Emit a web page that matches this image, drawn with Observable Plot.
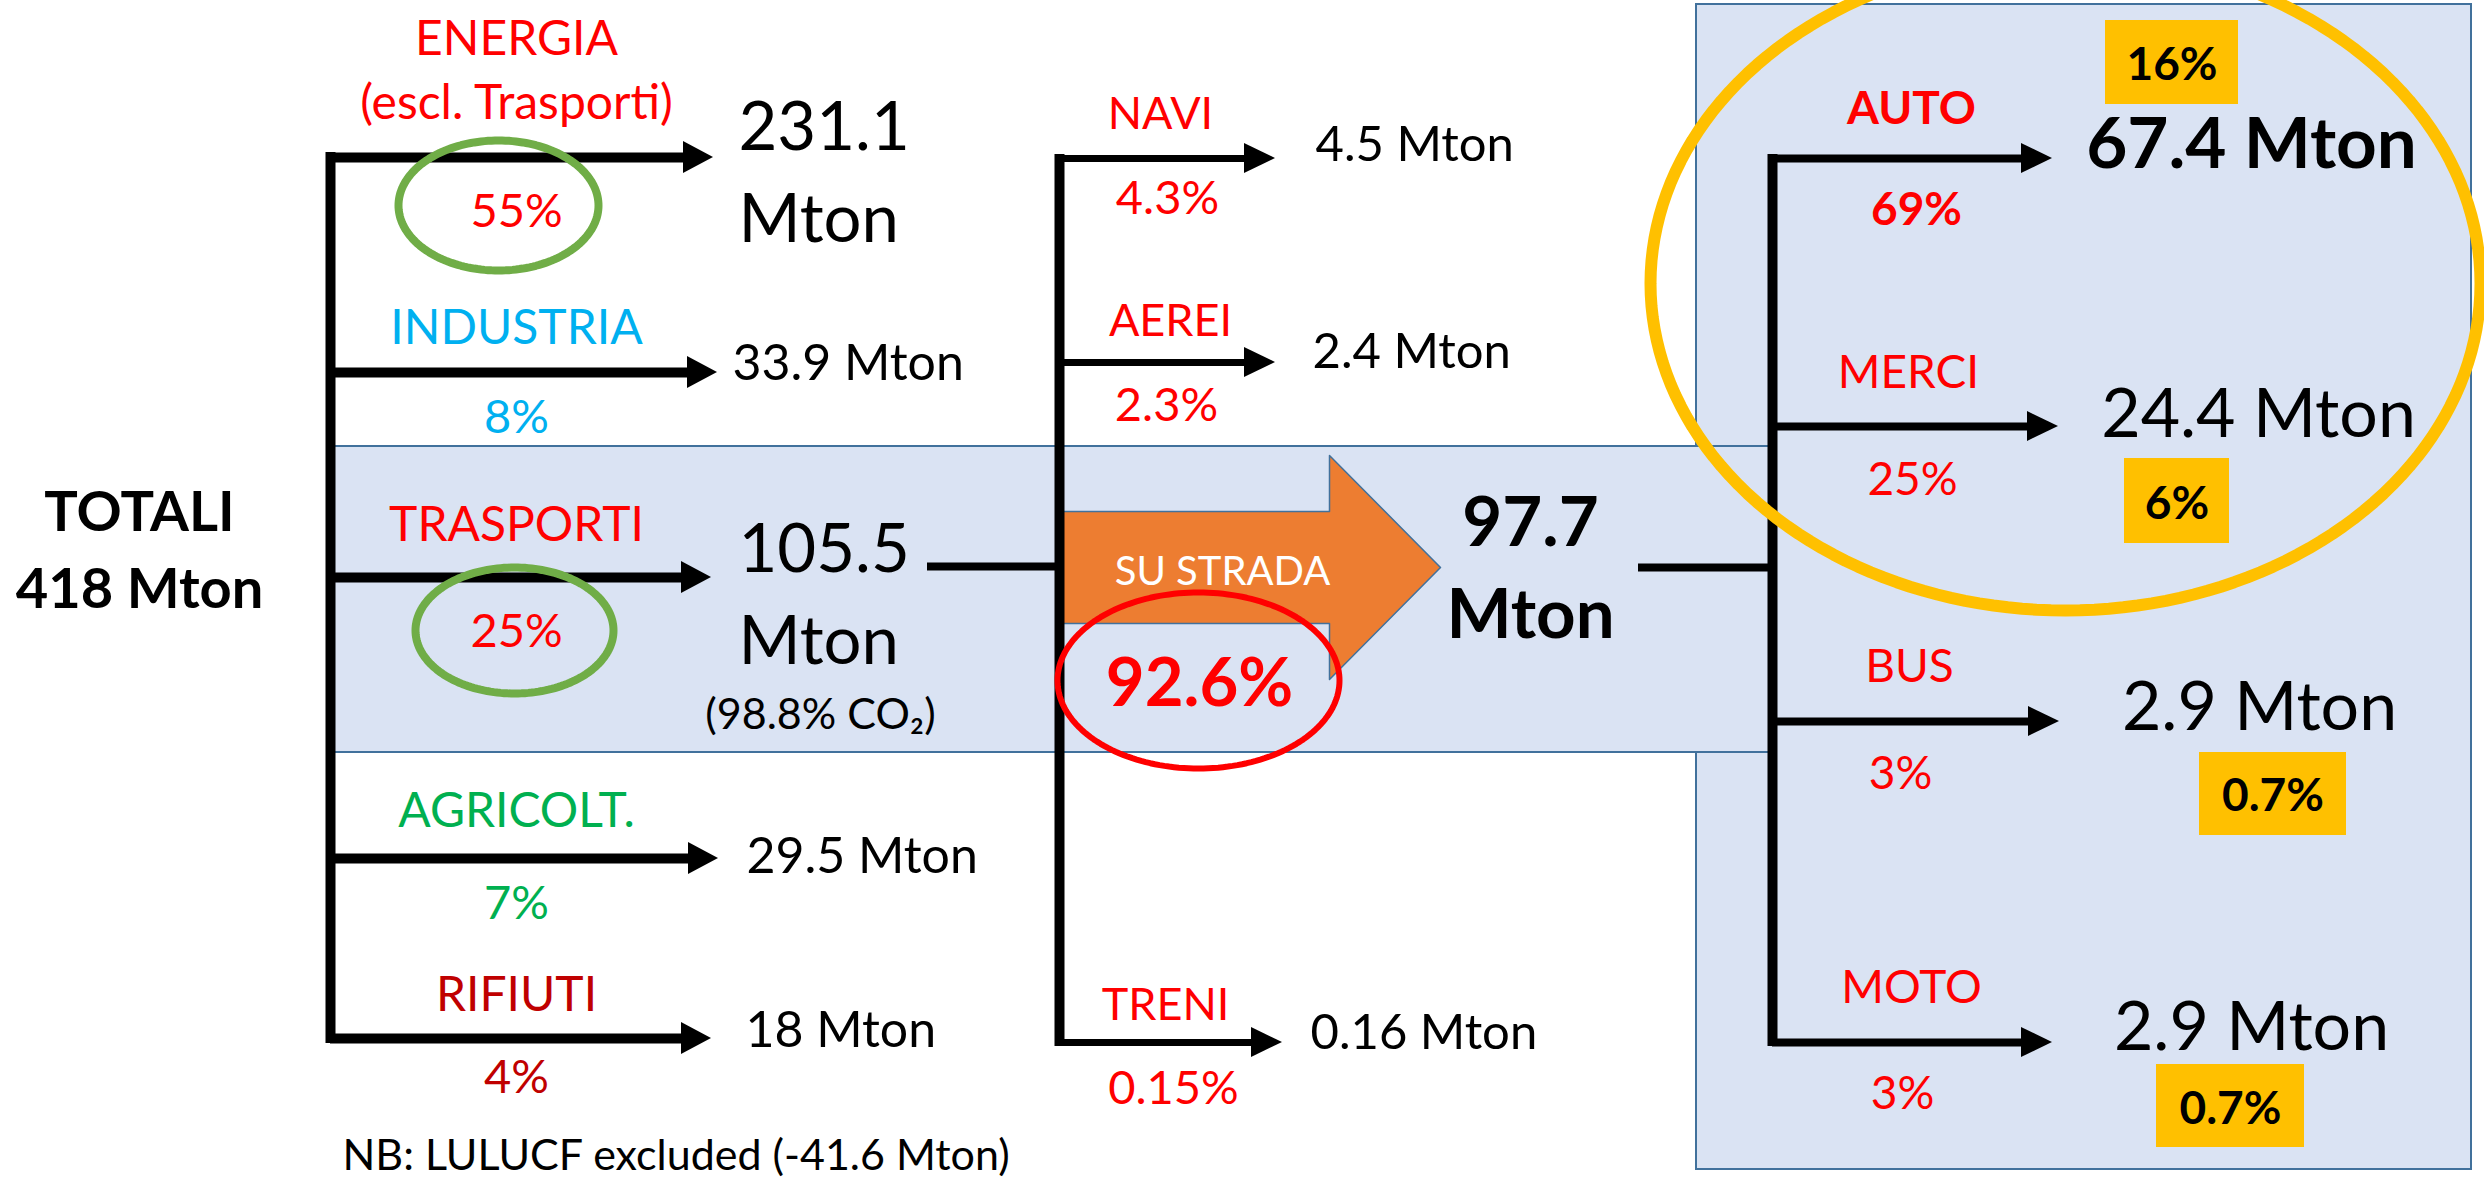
<!DOCTYPE html>
<html>
<head>
<meta charset="utf-8">
<script src="https://cdn.jsdelivr.net/npm/d3@7"></script>
<script src="https://cdn.jsdelivr.net/npm/@observablehq/plot@0.6"></script>
<style>
  html, body { margin: 0; padding: 0; background: #fff; }
  #chart svg { display: block; }
</style>
</head>
<body>
<div id="chart"></div>
<script>
// ================= DATA =================
const totalLabel = "TOTALI";
const totalMton = 418;
const lulucfMton = -41.6;

const sectors = ["ENERGIA\n(escl. Trasporti)", "INDUSTRIA", "TRASPORTI", "AGRICOLT.", "RIFIUTI"];
const sectorMton = [231.1, 33.9, 105.5, 29.5, 18];
const sectorShare = [55, 8, 25, 7, 4];
const transportCO2Share = 98.8;

const modes = ["NAVI", "AEREI", "SU STRADA", "TRENI"];
const modeMton = [4.5, 2.4, 97.7, 0.16];
const modeShare = [4.3, 2.3, 92.6, 0.15];

const roadTypes = ["AUTO", "MERCI", "BUS", "MOTO"];
const roadMton = [67.4, 24.4, 2.9, 2.9];
const roadShare = [69, 25, 3, 3];
const roadShareOfTotal = [16, 6, 0.7, 0.7];

// ================= STYLE / LAYOUT =================
const sectorColors = ["#FF0000", "#00B0F0", "#FF0000", "#00B050", "#C00000"];
const RED = "#FF0000";
const FONT = "Lato, 'Open Sans', sans-serif";
const W = 2484, H = 1182;

const colX = {left: 330, mid: 1059, right: 1772};

const sectorLayout = {
  arrowY: [157, 372, 577, 858, 1038],
  tipX:   [713, 717, 711, 718, 711],
  labelX: 516,
  labelY: [118, 343, 540, 826, 1010],
  pctY:   [226, 432, 646, 918, 1092],
  valueX: [738, 732, 738, 746, 745],
  valueY: [241, 379, 663, 872, 1046],
  twoLine:[true, false, true, false, false]
};
const modeLayout = {
  arrowY: [158, 362, 567, 1042],
  tipX:   [1275, 1275, 1440, 1282],
  labelX: [1160, 1170, 1222, 1165],
  labelY: [128, 335, 584, 1019],
  pctX:   [1167, 1166, 1199, 1173],
  pctY:   [213, 420, 705, 1103],
  valueX: [1315, 1312, 1530, 1310],
  valueY: [160, 367, 637, 1048]
};
const roadLayout = {
  arrowY: [158, 426, 721, 1042],
  tipX:   [2052, 2058, 2059, 2052],
  labelX: [1911, 1908, 1909, 1911],
  labelY: [123, 387, 681, 1002],
  pctX:   [1916, 1912, 1900, 1902],
  pctY:   [224, 494, 788, 1108],
  valueX: [2251, 2258, 2259, 2251],
  valueY: [167, 436, 729, 1049],
  boxX1:  [2105, 2124, 2199, 2156],
  boxX2:  [2238, 2229, 2346, 2304],
  boxY1:  [20, 458, 752, 1064],
  boxY2:  [104, 543, 835, 1147],
  boxTextY: [79, 518, 810, 1123]
};
const orange = {tail: 1061, neck: 1329, bodyHalf: 56, headHalf: 112};

// ================= TABLES =================
const sectorRows = sectors.map((name, i) => ({
  name, mton: sectorMton[i], share: sectorShare[i], color: sectorColors[i],
  y: sectorLayout.arrowY[i], tip: sectorLayout.tipX[i],
  labelY: sectorLayout.labelY[i], pctY: sectorLayout.pctY[i],
  valueX: sectorLayout.valueX[i], valueY: sectorLayout.valueY[i],
  twoLine: sectorLayout.twoLine[i]
}));
const modeRows = modes.map((name, i) => ({
  name, mton: modeMton[i], share: modeShare[i],
  y: modeLayout.arrowY[i], tip: modeLayout.tipX[i],
  labelX: modeLayout.labelX[i], labelY: modeLayout.labelY[i],
  pctX: modeLayout.pctX[i], pctY: modeLayout.pctY[i],
  valueX: modeLayout.valueX[i], valueY: modeLayout.valueY[i],
  road: name === "SU STRADA"
}));
const roadRows = roadTypes.map((name, i) => ({
  name, mton: roadMton[i], share: roadShare[i], shareTot: roadShareOfTotal[i],
  y: roadLayout.arrowY[i], tip: roadLayout.tipX[i],
  labelX: roadLayout.labelX[i], labelY: roadLayout.labelY[i],
  pctX: roadLayout.pctX[i], pctY: roadLayout.pctY[i],
  valueX: roadLayout.valueX[i], valueY: roadLayout.valueY[i],
  bx1: roadLayout.boxX1[i], bx2: roadLayout.boxX2[i],
  by1: roadLayout.boxY1[i], by2: roadLayout.boxY2[i], btY: roadLayout.boxTextY[i],
  main: i === 0
}));

const leftArrows = sectorRows.map(d => ({x0: colX.left, tip: d.tip, y: d.y, depth: 30, half: 16}));
const midArrows = modeRows.filter(d => !d.road).map(d => ({x0: colX.mid, tip: d.tip, y: d.y, depth: 31, half: 15}));
const rightArrows = roadRows.map(d => ({x0: colX.right, tip: d.tip, y: d.y, depth: 31, half: 15}));
const allArrows = [...leftArrows, ...midArrows, ...rightArrows];
const heads = allArrows.flatMap((a, i) => [
  {id: i, x: a.tip - a.depth, y1: a.y - a.half, y2: a.y + a.half},
  {id: i, x: a.tip, y1: a.y, y2: a.y}
]);

const spines = [
  {x: colX.left,  y1: sectorLayout.arrowY[0] - 5, y2: sectorLayout.arrowY[4] + 5},
  {x: colX.mid,   y1: modeLayout.arrowY[0] - 4,   y2: modeLayout.arrowY[3] + 4},
  {x: colX.right, y1: roadLayout.arrowY[0] - 4,   y2: roadLayout.arrowY[3] + 4}
];
const transportRow = sectorRows[2];
const roadRow = modeRows[2];
const connectors = [
  {y: transportRow.valueY - 97, x1: 927, x2: colX.mid},
  {y: roadRow.y, x1: 1638, x2: colX.right}
];

// Orange "SU STRADA" block arrow polygon, built from its row
const oy = roadRow.y;
const orangePoly = [
  {x: orange.tail, y: oy - orange.bodyHalf},
  {x: orange.neck, y: oy - orange.bodyHalf},
  {x: orange.neck, y: oy - orange.headHalf},
  {x: roadRow.tip, y: oy},
  {x: orange.neck, y: oy + orange.headHalf},
  {x: orange.neck, y: oy + orange.bodyHalf},
  {x: orange.tail, y: oy + orange.bodyHalf}
];

// annotation ellipses
function ellipse(cx, cy, rx, ry) {
  return d3.range(0, 360, 2).map(a => ({
    x: cx + rx * Math.cos(a * Math.PI / 180),
    y: cy + ry * Math.sin(a * Math.PI / 180)
  }));
}
const green1 = ellipse(498, 205, 100, 65);
const green2 = ellipse(514, 630, 99, 63);
const redEll = ellipse(1198, 680, 141, 88);
const yellowEll = ellipse(2065, 283, 415, 327);

const band = [{x1: colX.left, x2: colX.right, y1: 446, y2: 752}];
const box = [{x1: 1696, x2: 2471, y1: 4, y2: 1169}];

const num = v => String(v);
const pct = v => `${v}%`;

const T = (data, o) => Plot.text(data, {fontFamily: FONT, lineAnchor: "bottom", ...o});

const chart = Plot.plot({
  width: W, height: H, margin: 0,
  x: {domain: [0, W], range: [0, W], axis: null},
  y: {domain: [0, H], range: [0, H], axis: null},
  color: {type: "identity"},
  style: {background: "#ffffff", overflow: "hidden"},
  marks: [
    Plot.rect(box, {x1: "x1", x2: "x2", y1: "y1", y2: "y2", fill: "#DAE3F3", stroke: "#41719C", strokeWidth: 2}),
    Plot.rect(band, {x1: "x1", x2: "x2", y1: "y1", y2: "y2", fill: "#DAE3F3", stroke: "#41719C", strokeWidth: 2}),
    Plot.line(orangePoly, {x: "x", y: "y", fill: "#ED7D31", stroke: "#41719C", strokeWidth: 1.5, curve: "linear-closed"}),

    // spines and arrows
    Plot.ruleX(spines, {x: "x", y1: "y1", y2: "y2", stroke: "#000", strokeWidth: 10}),
    Plot.ruleY(leftArrows, {y: "y", x1: "x0", x2: d => d.tip - d.depth + 2, stroke: "#000", strokeWidth: 10}),
    Plot.ruleY(midArrows, {y: "y", x1: "x0", x2: d => d.tip - d.depth + 2, stroke: "#000", strokeWidth: 7}),
    Plot.ruleY(rightArrows, {y: "y", x1: "x0", x2: d => d.tip - d.depth + 2, stroke: "#000", strokeWidth: 8}),
    Plot.areaY(heads, {x: "x", y1: "y1", y2: "y2", z: "id", fill: "#000"}),
    Plot.ruleY(connectors, {y: "y", x1: "x1", x2: "x2", stroke: "#000", strokeWidth: 8}),

    // total
    T([`${totalLabel}\n${totalMton} Mton`], {x: 139, y: 607, text: d => d, fontSize: 56, fontWeight: "bold", lineHeight: 1.36, fill: "#000"}),

    // sectors
    T(sectorRows, {x: sectorLayout.labelX, y: "labelY", text: "name", fill: "color", fontSize: 48, lineHeight: 1.32}),
    T(sectorRows, {x: sectorLayout.labelX, y: "pctY", text: d => pct(d.share), fill: "color", fontSize: 47}),
    T(sectorRows.filter(d => d.twoLine), {x: "valueX", y: "valueY", text: d => `${num(d.mton)}\nMton`, textAnchor: "start", fontSize: 67, lineHeight: 1.36, fill: "#000"}),
    T(sectorRows.filter(d => !d.twoLine), {x: "valueX", y: "valueY", text: d => `${num(d.mton)} Mton`, textAnchor: "start", fontSize: 50, fill: "#000"}),
    T([`(${transportCO2Share}% CO₂)`], {x: 820, y: 728, text: d => d, fontSize: 43, fill: "#000"}),
    T([`NB: LULUCF excluded (${lulucfMton} Mton)`], {x: 342, y: 1169, text: d => d, textAnchor: "start", fontSize: 43, fill: "#000"}),

    // transport modes
    T(modeRows.filter(d => !d.road), {x: "labelX", y: "labelY", text: "name", fill: RED, fontSize: 45}),
    T(modeRows.filter(d => !d.road), {x: "pctX", y: "pctY", text: d => pct(d.share), fill: RED, fontSize: 47}),
    T(modeRows.filter(d => !d.road), {x: "valueX", y: "valueY", text: d => `${num(d.mton)} Mton`, textAnchor: "start", fontSize: 49, fill: "#000"}),
    T([roadRow], {x: "labelX", y: "labelY", text: "name", fill: "#fff", fontSize: 40}),
    T([roadRow], {x: "pctX", y: "pctY", text: d => pct(d.share), fill: RED, fontSize: 67, fontWeight: "bold"}),
    T([roadRow], {x: "valueX", y: "valueY", text: d => `${num(d.mton)}\nMton`, fontSize: 69, fontWeight: "bold", lineHeight: 1.32, fill: "#000"}),

    // road vehicles
    T(roadRows.filter(d => d.main), {x: "labelX", y: "labelY", text: "name", fill: RED, fontSize: 46, fontWeight: "bold"}),
    T(roadRows.filter(d => !d.main), {x: "labelX", y: "labelY", text: "name", fill: RED, fontSize: 46}),
    T(roadRows.filter(d => d.main), {x: "pctX", y: "pctY", text: d => pct(d.share), fill: RED, fontSize: 46, fontWeight: "bold"}),
    T(roadRows.filter(d => !d.main), {x: "pctX", y: "pctY", text: d => pct(d.share), fill: RED, fontSize: 46}),
    T(roadRows.filter(d => d.main), {x: "valueX", y: "valueY", text: d => `${num(d.mton)} Mton`, fontSize: 71, fontWeight: "bold", fill: "#000"}),
    T(roadRows.filter(d => !d.main), {x: "valueX", y: "valueY", text: d => `${num(d.mton)} Mton`, fontSize: 68, fill: "#000"}),
    Plot.rect(roadRows, {x1: "bx1", x2: "bx2", y1: "by1", y2: "by2", fill: "#FFC000"}),
    T(roadRows, {x: d => (d.bx1 + d.bx2) / 2, y: "btY", text: d => pct(d.shareTot), fontSize: 46, fontWeight: "bold", fill: "#000"}),

    // annotation ellipses
    Plot.line(green1, {x: "x", y: "y", stroke: "#70AD47", strokeWidth: 8, curve: "linear-closed"}),
    Plot.line(green2, {x: "x", y: "y", stroke: "#70AD47", strokeWidth: 8, curve: "linear-closed"}),
    Plot.line(redEll, {x: "x", y: "y", stroke: "#FF0000", strokeWidth: 6, curve: "linear-closed"}),
    Plot.line(yellowEll, {x: "x", y: "y", stroke: "#FFC000", strokeWidth: 12, curve: "linear-closed"})
  ]
});
document.getElementById("chart").append(chart);
</script>
</body>
</html>
